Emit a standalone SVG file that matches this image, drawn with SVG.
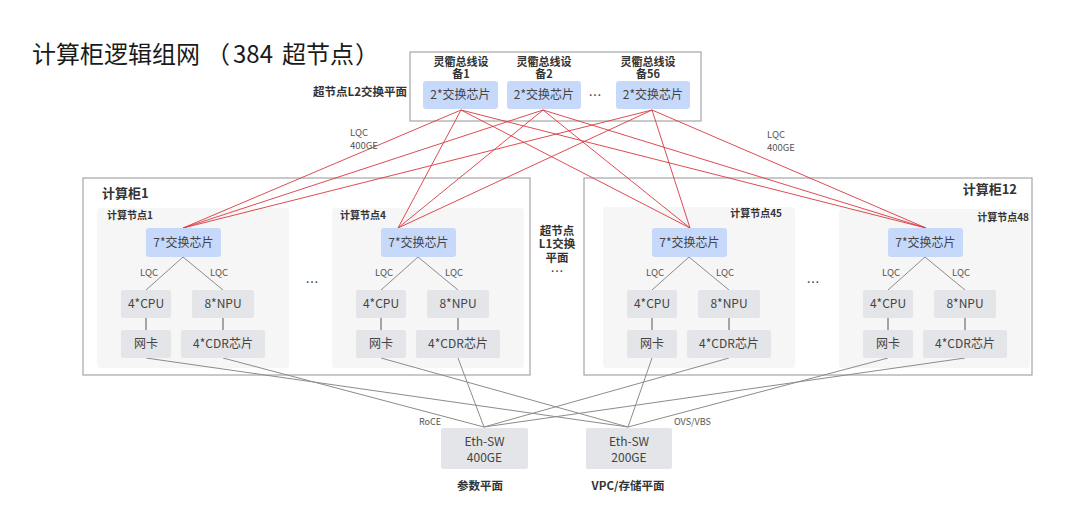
<svg xmlns="http://www.w3.org/2000/svg" width="1080" height="515" viewBox="0 0 1080 515">
<style>
text{font-family:"Noto Sans CJK SC","Noto Sans",sans-serif;}
.title{font-size:24px;fill:#1a1a1a;}
.b{font-weight:bold;fill:#333;}
.frame{fill:#fff;stroke:#a6a6a6;stroke-width:1.2;}
.panel{fill:#f6f6f6;}
.chip{fill:#c6d9fb;}
.gbox{fill:#e4e5e8;}
.ct{font-size:12px;fill:#444;text-anchor:middle;}
.sm{font-size:9.5px;fill:#555;}
.red{stroke:#d9383f;stroke-width:0.9;fill:none;}
.gl{stroke:#8c8c8c;stroke-width:1;fill:none;}
.dk{stroke:#555;stroke-width:1;}
.dev{font-weight:bold;fill:#333;font-size:11px;text-anchor:middle;}
</style>
<rect width="1080" height="515" fill="#fff"/>
<text class="title" x="32" y="63">计算柜逻辑组网<tspan x="206">（</tspan><tspan x="233">384</tspan><tspan x="282">超节点</tspan><tspan x="355">）</tspan></text>

<!-- containers -->
<g id="l2-plane">
<rect class="frame" x="410" y="52" width="291" height="69"/>
<text class="b" x="313" y="96" font-size="11.5">超节点L2交换平面</text>
</g>
<g id="cabinet1">
<rect class="frame" x="83" y="178" width="447" height="197"/>
<text class="b" x="102" y="198" font-size="13">计算柜1</text>
<text x="312" y="287" font-size="13" fill="#444" text-anchor="middle">…</text>
</g>
<g id="cabinet12">
<rect class="frame" x="584" y="178" width="448" height="197"/>
<text class="b" x="1017" y="194" font-size="13" text-anchor="end">计算柜12</text>
<text x="813" y="287" font-size="13" fill="#444" text-anchor="middle">…</text>
</g>
<g id="l1-label">
<text class="b" font-size="11.5" text-anchor="middle" x="557" y="235">超节点</text>
<text class="b" font-size="11.5" text-anchor="middle" x="557" y="248">L1交换</text>
<text class="b" font-size="11.5" text-anchor="middle" x="557" y="262">平面</text>
<text font-size="13" fill="#444" text-anchor="middle" x="557" y="276">…</text>
</g>
<g id="panels">
<rect class="panel" x="97" y="208" width="192" height="160" rx="4"/>
<rect class="panel" x="332" y="208" width="192" height="160" rx="4"/>
<rect class="panel" x="603" y="207" width="192" height="161" rx="4"/>
<rect class="panel" x="839" y="209" width="191" height="159" rx="4"/>
<text class="b" font-size="10" x="107" y="219">计算节点1</text>
<text class="b" font-size="10" x="340" y="219">计算节点4</text>
<text class="b" font-size="10" x="782" y="217" text-anchor="end">计算节点45</text>
<text class="b" font-size="10" x="1029" y="221" text-anchor="end">计算节点48</text>
</g>

<!-- connectors -->
<g id="connectors">
<g class="red">
<line x1="461" y1="110" x2="183" y2="228"/>
<line x1="461" y1="110" x2="398" y2="228"/>
<line x1="461" y1="110" x2="690" y2="228"/>
<line x1="461" y1="110" x2="926" y2="228"/>
<line x1="543" y1="110" x2="183" y2="228"/>
<line x1="543" y1="110" x2="398" y2="228"/>
<line x1="543" y1="110" x2="690" y2="228"/>
<line x1="543" y1="110" x2="926" y2="228"/>
<line x1="652" y1="110" x2="183" y2="228"/>
<line x1="652" y1="110" x2="398" y2="228"/>
<line x1="652" y1="110" x2="690" y2="228"/>
<line x1="652" y1="110" x2="926" y2="228"/>
</g>
<g class="gl">
<polyline points="146,290 183,257 223,290"/>
<polyline points="381,290 418,257 458,290"/>
<polyline points="652,290 689,257 729,290"/>
<polyline points="888,290 925,257 965,290"/>
<line x1="146" y1="358" x2="628" y2="427"/>
<line x1="381" y1="358" x2="628" y2="427"/>
<line x1="652" y1="358" x2="628" y2="427"/>
<line x1="888" y1="358" x2="628" y2="427"/>
<line x1="223" y1="358" x2="484" y2="427"/>
<line x1="458" y1="358" x2="484" y2="427"/>
<line x1="729" y1="358" x2="484" y2="427"/>
<line x1="965" y1="358" x2="484" y2="427"/>
</g>
<g class="dk">
<line x1="146" y1="318" x2="146" y2="330"/><line x1="223" y1="318" x2="223" y2="330"/>
<line x1="381" y1="318" x2="381" y2="330"/><line x1="458" y1="318" x2="458" y2="330"/>
<line x1="652" y1="318" x2="652" y2="330"/><line x1="729" y1="318" x2="729" y2="330"/>
<line x1="888" y1="318" x2="888" y2="330"/><line x1="965" y1="318" x2="965" y2="330"/>
</g>
<g class="sm">
<text x="350" y="136">LQC</text><text x="350" y="149">400GE</text>
<text x="767" y="138">LQC</text><text x="767" y="151">400GE</text>
<text x="149" y="276" text-anchor="middle">LQC</text><text x="219" y="276" text-anchor="middle">LQC</text>
<text x="384" y="276" text-anchor="middle">LQC</text><text x="454" y="276" text-anchor="middle">LQC</text>
<text x="655" y="276" text-anchor="middle">LQC</text><text x="725" y="276" text-anchor="middle">LQC</text>
<text x="891" y="276" text-anchor="middle">LQC</text><text x="961" y="276" text-anchor="middle">LQC</text>
<text x="419" y="425" font-size="9">RoCE</text>
<text x="674" y="425" font-size="9">OVS/VBS</text>
</g>
</g>

<!-- L2 devices -->
<g id="l2-dev1">
<text class="dev" x="461" y="65.5">灵衢总线设</text>
<text class="dev" x="461" y="77.5">备1</text>
<rect class="chip" x="423" y="81" width="75" height="28" rx="3"/>
<text class="ct" x="460.5" y="99">2*交换芯片</text>
</g>
<g id="l2-dev2">
<text class="dev" x="544" y="65.5">灵衢总线设</text>
<text class="dev" x="544" y="77.5">备2</text>
<rect class="chip" x="507" y="81" width="74" height="28" rx="3"/>
<text class="ct" x="544" y="99">2*交换芯片</text>
</g>
<text x="595" y="100" font-size="13" fill="#444" text-anchor="middle">…</text>
<g id="l2-dev56">
<text class="dev" x="648" y="65.5">灵衢总线设</text>
<text class="dev" x="648" y="77.5">备56</text>
<rect class="chip" x="616" y="81" width="74" height="28" rx="3"/>
<text class="ct" x="653" y="99">2*交换芯片</text>
</g>

<!-- compute nodes -->
<g id="node1">
<rect class="chip" x="146" y="228" width="75" height="29" rx="3"/>
<text class="ct" x="183.5" y="247">7*交换芯片</text>
<rect class="gbox" x="121" y="290" width="50" height="28" rx="2"/><text class="ct" x="146" y="308">4*CPU</text>
<rect class="gbox" x="192" y="290" width="62" height="28" rx="2"/><text class="ct" x="223" y="308">8*NPU</text>
<rect class="gbox" x="121" y="330" width="50" height="28" rx="2"/><text class="ct" x="146" y="348">网卡</text>
<rect class="gbox" x="181" y="330" width="84" height="28" rx="2"/><text class="ct" x="223" y="348">4*CDR芯片</text>
</g>
<g id="node4">
<rect class="chip" x="381" y="228" width="75" height="29" rx="3"/>
<text class="ct" x="418.5" y="247">7*交换芯片</text>
<rect class="gbox" x="356" y="290" width="50" height="28" rx="2"/><text class="ct" x="381" y="308">4*CPU</text>
<rect class="gbox" x="427" y="290" width="62" height="28" rx="2"/><text class="ct" x="458" y="308">8*NPU</text>
<rect class="gbox" x="356" y="330" width="50" height="28" rx="2"/><text class="ct" x="381" y="348">网卡</text>
<rect class="gbox" x="416" y="330" width="84" height="28" rx="2"/><text class="ct" x="458" y="348">4*CDR芯片</text>
</g>
<g id="node45">
<rect class="chip" x="652" y="228" width="75" height="29" rx="3"/>
<text class="ct" x="689.5" y="247">7*交换芯片</text>
<rect class="gbox" x="627" y="290" width="50" height="28" rx="2"/><text class="ct" x="652" y="308">4*CPU</text>
<rect class="gbox" x="698" y="290" width="62" height="28" rx="2"/><text class="ct" x="729" y="308">8*NPU</text>
<rect class="gbox" x="627" y="330" width="50" height="28" rx="2"/><text class="ct" x="652" y="348">网卡</text>
<rect class="gbox" x="687" y="330" width="84" height="28" rx="2"/><text class="ct" x="729" y="348">4*CDR芯片</text>
</g>
<g id="node48">
<rect class="chip" x="888" y="228" width="75" height="29" rx="3"/>
<text class="ct" x="925.5" y="247">7*交换芯片</text>
<rect class="gbox" x="863" y="290" width="50" height="28" rx="2"/><text class="ct" x="888" y="308">4*CPU</text>
<rect class="gbox" x="934" y="290" width="62" height="28" rx="2"/><text class="ct" x="965" y="308">8*NPU</text>
<rect class="gbox" x="863" y="330" width="50" height="28" rx="2"/><text class="ct" x="888" y="348">网卡</text>
<rect class="gbox" x="923" y="330" width="84" height="28" rx="2"/><text class="ct" x="965" y="348">4*CDR芯片</text>
</g>

<!-- Ethernet switches -->
<g id="eth-sw-400">
<rect class="gbox" x="441" y="428" width="87" height="41" rx="2"/>
<text class="ct" font-size="11.5" x="484.5" y="446">Eth-SW</text>
<text class="ct" font-size="11.5" x="484.5" y="462">400GE</text>
<text class="b" font-size="11.5" text-anchor="middle" x="480" y="490">参数平面</text>
</g>
<g id="eth-sw-200">
<rect class="gbox" x="586" y="428" width="86" height="41" rx="2"/>
<text class="ct" font-size="11.5" x="629" y="446">Eth-SW</text>
<text class="ct" font-size="11.5" x="629" y="462">200GE</text>
<text class="b" font-size="11.5" text-anchor="middle" x="628" y="490">VPC/存储平面</text>
</g>
</svg>
